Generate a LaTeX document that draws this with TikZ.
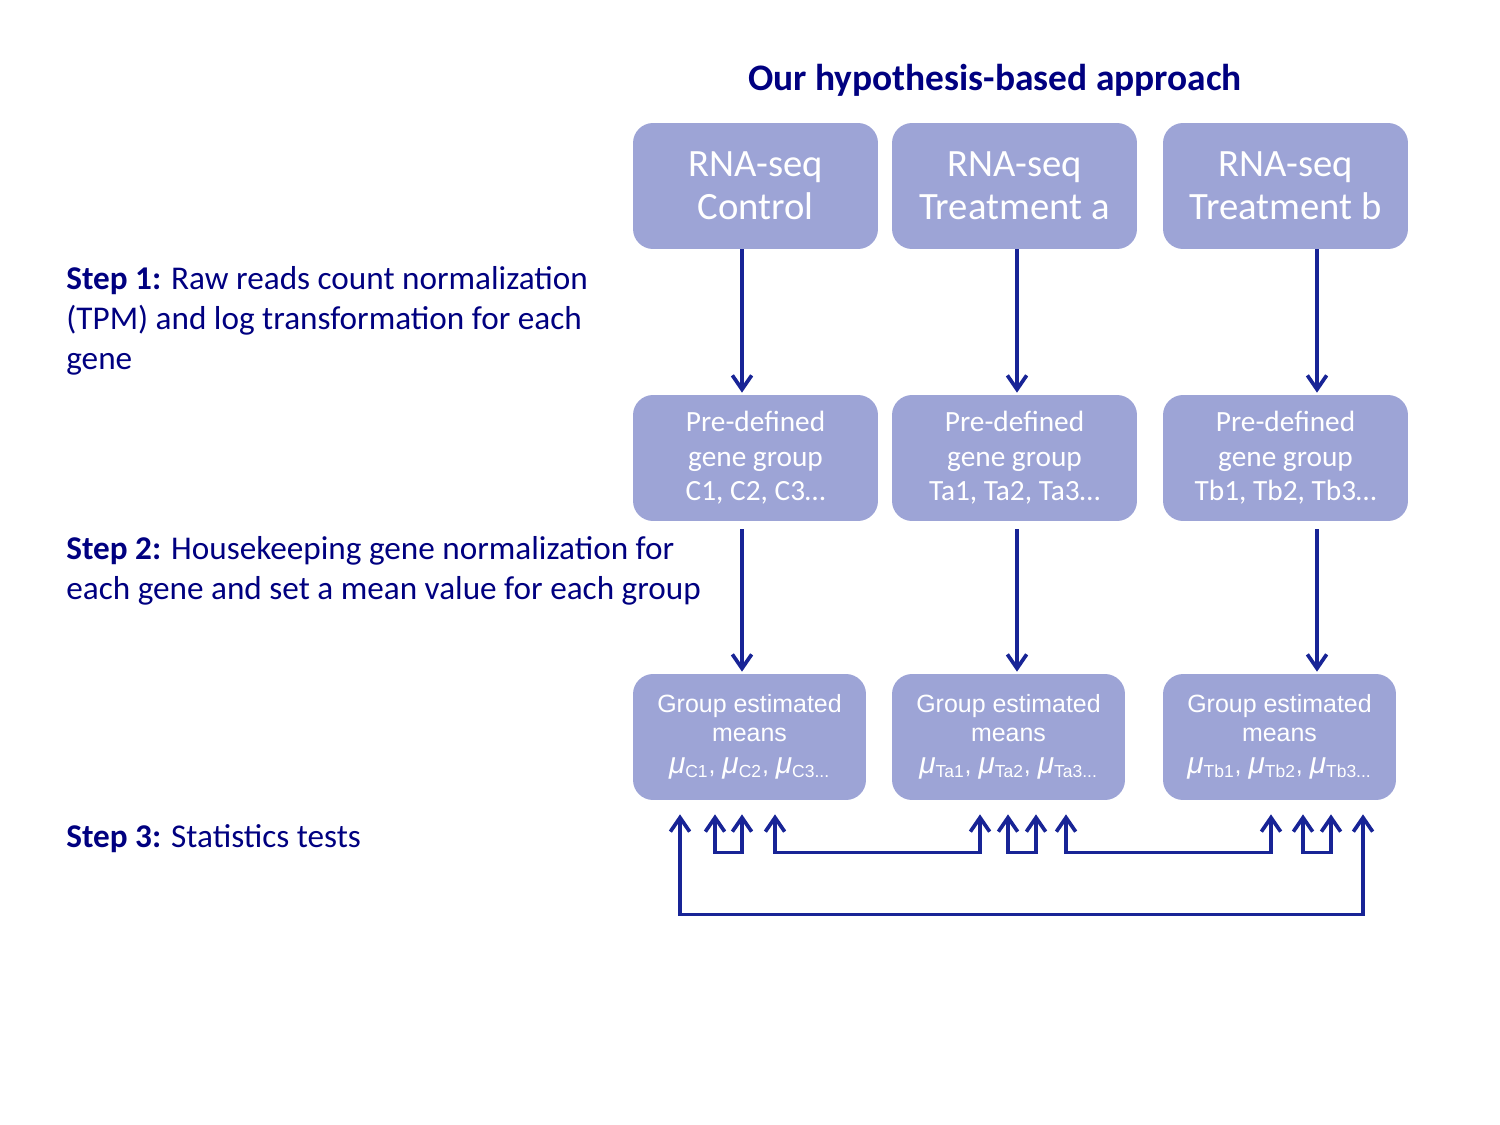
\documentclass[tikz,border=0pt]{standalone}
\usepackage{fontspec}
\setmainfont{Carlito}
\newfontfamily\arialfont{Liberation Sans}
\usetikzlibrary{positioning,calc,arrows.meta}
\definecolor{boxfill}{RGB}{157,164,214}
\definecolor{linkblue}{RGB}{24,36,150}
\definecolor{stepnavy}{RGB}{0,0,128}
\newcommand{\grpmu}[1]{{\fontsize{17}{17}\selectfont\itshape μ}\textsubscript{#1}}

\begin{document}
\begin{tikzpicture}[x=0.02cm, y=-0.02cm, >={Straight Barb[length=8pt,width=11pt]}, every node/.style={inner sep=0pt}]
\tikzstyle{block}=[rectangle, fill=boxfill, rounded corners=0.4cm, align=center, text=white, minimum height=2.52cm]
\tikzstyle{seqbox}=[block, minimum width=4.9cm, font=\fontsize{22}{24.4}\selectfont]
\tikzstyle{grpbox}=[block, minimum width=4.9cm, font=\fontsize{16.7}{19.7}\selectfont]
\tikzstyle{meanbox}=[block, minimum width=4.66cm, font=\arialfont\fontsize{14.2}{16.4}\selectfont]
\tikzstyle{steptext}=[anchor=west, align=left, text=stepnavy, font=\fontsize{18.9}{22.7}\selectfont]
\tikzstyle{link}=[draw=linkblue, line width=2.1pt]
\useasboundingbox (0,0) rectangle (1500,1125);

% title
\node[text=stepnavy, font=\bfseries\fontsize{21.3}{24}\selectfont] (title) at (995,80) {Our hypothesis-based approach};

% RNA-seq samples
\node[seqbox] (rnaC) at (755.5,186) {RNA-seq\\Control};
\node[seqbox] (rnaA) at (1014.5,186) {RNA-seq\\Treatment a};
\node[seqbox] (rnaB) at (1285.5,186) {RNA-seq\\Treatment b};

% gene groups
\node[grpbox] (preC) at (755.5,458) {Pre-defined\\gene group\\C1, C2, C3…};
\node[grpbox] (preA) at (1014.5,458) {Pre-defined\\gene group\\Ta1, Ta2, Ta3…};
\node[grpbox] (preB) at (1285.5,458) {Pre-defined\\gene group\\Tb1, Tb2, Tb3…};

% group means
\node[meanbox] (gmC) at (749.5,737) {Group estimated\\means\\[2pt]\grpmu{C1}, \grpmu{C2}, \grpmu{C3...}};
\node[meanbox] (gmA) at (1008.5,737) {Group estimated\\means\\[2pt]\grpmu{Ta1}, \grpmu{Ta2}, \grpmu{Ta3...}};
\node[meanbox] (gmB) at (1279.5,737) {Group estimated\\means\\[2pt]\grpmu{Tb1}, \grpmu{Tb2}, \grpmu{Tb3...}};

% steps
\node[steptext] (step1) at (66,321) {\textbf{Step 1:} Raw reads count normalization\\(TPM) and log transformation for each\\gene};
\node[steptext] (step2) at (66,571) {\textbf{Step 2:} Housekeeping gene normalization for\\each gene and set a mean value for each group};
\node[steptext] (step3) at (66,839) {\textbf{Step 3:} Statistics tests};

% step 1 and step 2 arrows
\draw[link,->] ($(rnaC.south)+(-13.5,0)$) -- ($(preC.north)+(-13.5,-2)$);
\draw[link,->] ($(rnaA.south)+(2.5,0)$) -- ($(preA.north)+(2.5,-2)$);
\draw[link,->] ($(rnaB.south)+(31.5,0)$) -- ($(preB.north)+(31.5,-2)$);
\draw[link,->] ($(preC.south)+(-13.5,8)$) -- ($(gmC.north)+(-7.5,-2)$);
\draw[link,->] ($(preA.south)+(2.5,8)$) -- ($(gmA.north)+(8.5,-2)$);
\draw[link,->] ($(preB.south)+(31.5,8)$) -- ($(gmB.north)+(37.5,-2)$);

% step 3 comparisons
\foreach \n/\dx in {c1/-69.5, c2/-34.5, c3/-7.5, c4/25.5}
  \coordinate (\n) at ($(gmC.south)+(\dx,14)$);
\foreach \n/\dx in {a1/-28.5, a2/-0.5, a3/27.5, a4/57.5}
  \coordinate (\n) at ($(gmA.south)+(\dx,14)$);
\foreach \n/\dx in {b1/-8.5, b2/23.5, b3/51.5, b4/83.5}
  \coordinate (\n) at ($(gmB.south)+(\dx,14)$);
\draw[link,<->] (c2) -- ++(0,38) -| (c3);
\draw[link,<->] (c4) -- ++(0,38) -| (a1);
\draw[link,<->] (a2) -- ++(0,38) -| (a3);
\draw[link,<->] (a4) -- ++(0,38) -| (b1);
\draw[link,<->] (b2) -- ++(0,38) -| (b3);
\draw[link,<->] (c1) -- ++(0,100) -| (b4);
\end{tikzpicture}
\end{document}
